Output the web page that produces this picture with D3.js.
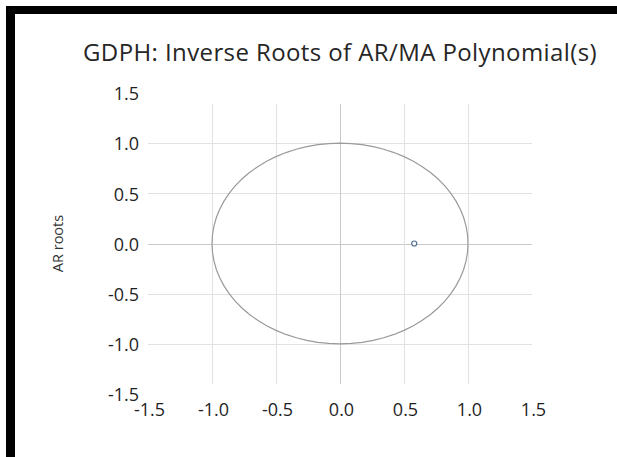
<!DOCTYPE html>
<html>
<head>
<meta charset="utf-8">
<script src="https://cdn.jsdelivr.net/npm/d3@7"></script>
<style>
  body { margin: 0; background: #fff; }
  svg { display: block; font-family: "Open Sans", sans-serif; }
</style>
</head>
<body>
<div id="chart"></div>
<script>
const title = "GDPH: Inverse Roots of AR/MA Polynomial(s)";
const yLabel = "AR roots";
const tickValues = [-1.5, -1.0, -0.5, 0.0, 0.5, 1.0, 1.5];
const gridValues = [-1.0, -0.5, 0.0, 0.5, 1.0];
// inverse AR roots (real, imaginary)
const rootsRe = [0.58];
const rootsIm = [0.0];

const width = 617, height = 457;

const svg = d3.select("#chart").append("svg")
  .attr("width", width)
  .attr("height", height);

// frame (top and left black bands)
svg.append("rect").attr("x", 6).attr("y", 6).attr("width", width - 6).attr("height", 8).attr("fill", "#000");
svg.append("rect").attr("x", 6).attr("y", 6).attr("width", 9).attr("height", height - 6).attr("fill", "#000");

const x = d3.scaleLinear().domain([-1.5, 1.5]).range([148, 532]);
const y = d3.scaleLinear().domain([-1.5, 1.5]).range([394, 93]);

svg.append("text")
  .attr("x", 340).attr("y", 61)
  .attr("text-anchor", "middle")
  .attr("font-size", 24)
  .attr("letter-spacing", 0.4)
  .attr("fill", "#262626")
  .text(title);

// gridlines
const grid = svg.append("g").attr("stroke-width", 1);
grid.selectAll(".h").data(gridValues).join("line")
  .attr("x1", x(-1.5)).attr("x2", x(1.5))
  .attr("y1", d => Math.round(y(d)) + 0.5).attr("y2", d => Math.round(y(d)) + 0.5)
  .attr("stroke", d => d === 0 ? "#c8c8c8" : "#e2e2e2");
grid.selectAll(".v").data(gridValues).join("line")
  .attr("y1", y(1.39)).attr("y2", y(-1.4))
  .attr("x1", d => Math.round(x(d)) + 0.5).attr("x2", d => Math.round(x(d)) + 0.5)
  .attr("stroke", d => d === 0 ? "#c8c8c8" : "#e2e2e2");

const fmt = d => d.toFixed(1);

// axes labels (no domain / ticks)
const yAxis = d3.axisLeft(y).tickValues(tickValues).tickFormat(fmt).tickSize(0).tickPadding(0);
svg.append("g")
  .attr("transform", "translate(139,1)")
  .call(yAxis)
  .call(g => g.select(".domain").remove())
  .call(g => g.selectAll("text").attr("font-size", 18).attr("fill", "#1f1f1f").attr("font-family", "Open Sans"));

const xAxis = d3.axisBottom(x).tickValues(tickValues).tickFormat(fmt).tickSize(0).tickPadding(0);
svg.append("g")
  .attr("transform", "translate(1,403)")
  .call(xAxis)
  .call(g => g.select(".domain").remove())
  .call(g => g.selectAll("text").attr("font-size", 18).attr("fill", "#1f1f1f").attr("font-family", "Open Sans"));

svg.append("text")
  .attr("transform", `translate(63,${y(0)}) rotate(-90)`)
  .attr("text-anchor", "middle")
  .attr("font-size", 14.5)
  .attr("fill", "#333")
  .text(yLabel);

// unit circle
const angles = d3.range(0, 361, 5).map(a => a * Math.PI / 180);
const line = d3.line().x(a => x(Math.cos(a))).y(a => y(Math.sin(a)));
svg.append("path")
  .attr("d", line(angles))
  .attr("fill", "none")
  .attr("stroke", "#9a9a9a")
  .attr("stroke-width", 1.2);

// roots
svg.selectAll(".root").data(rootsRe).join("circle")
  .attr("cx", d => x(d))
  .attr("cy", (d, i) => y(rootsIm[i]))
  .attr("r", 2.5)
  .attr("fill", "#fff")
  .attr("stroke", "#4f6f8f")
  .attr("stroke-width", 1.2);
</script>
</body>
</html>
